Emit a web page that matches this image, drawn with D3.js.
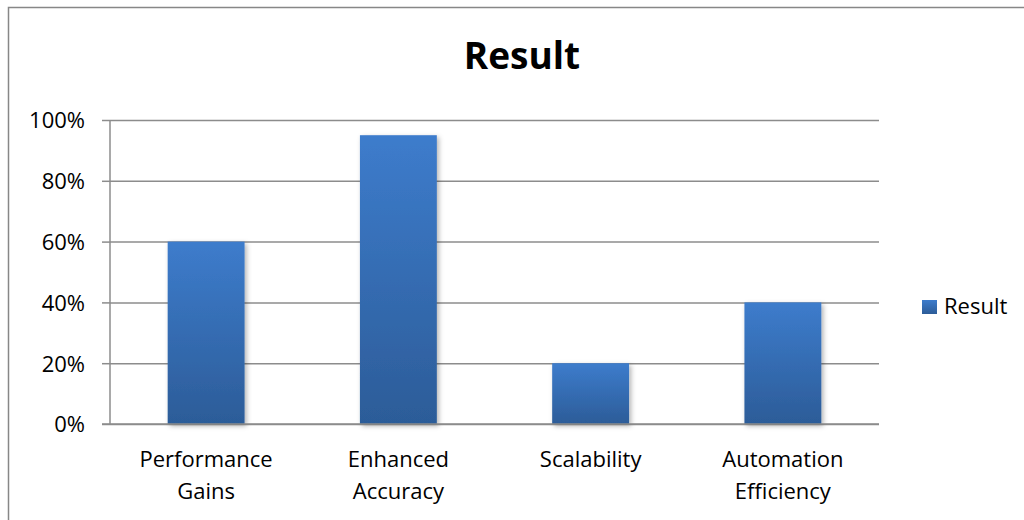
<!DOCTYPE html>
<html>
<head>
<meta charset="utf-8">
<script src="https://cdn.jsdelivr.net/npm/d3@7"></script>
<style>
  html, body { margin: 0; padding: 0; background: #fff; }
  svg { display: block; }
  text { font-family: "Open Sans", Lato, sans-serif; fill: #000; }
</style>
</head>
<body>
<svg id="chart" width="1024" height="520"></svg>
<script>
const categories = [["Performance", "Gains"], ["Enhanced", "Accuracy"], ["Scalability"], ["Automation", "Efficiency"]];
const values = [0.60, 0.95, 0.20, 0.40];
const yTicks = [0, 0.2, 0.4, 0.6, 0.8, 1.0];
const seriesName = "Result";
const title = "Result";

const svg = d3.select("#chart");
const plot = { left: 110, right: 879, top: 120, bottom: 424 };

const defs = svg.append("defs");
const grad = defs.append("linearGradient").attr("id", "barGrad")
  .attr("x1", 0).attr("y1", 0).attr("x2", 0).attr("y2", 1);
grad.append("stop").attr("offset", "0%").attr("stop-color", "#3d7ccc");
grad.append("stop").attr("offset", "100%").attr("stop-color", "#2c5c98");
const f = defs.append("filter").attr("id", "shadow")
  .attr("x", "-20%").attr("y", "-10%").attr("width", "150%").attr("height", "130%");
f.append("feDropShadow").attr("dx", 2).attr("dy", 2).attr("stdDeviation", 2.5)
  .attr("flood-color", "#000").attr("flood-opacity", 0.3);

// outer border
svg.append("rect").attr("x", 8.5).attr("y", 7.5).attr("width", 1030).attr("height", 530)
  .attr("fill", "#fff").attr("stroke", "#878787").attr("stroke-width", 1.5);

const x = d3.scaleBand().domain(d3.range(categories.length))
  .range([plot.left, plot.right]).paddingInner(0.6).paddingOuter(0.3);
const y = d3.scaleLinear().domain([0, 1]).range([plot.bottom, plot.top]);

const yAxis = d3.axisLeft(y).tickValues(yTicks).tickFormat(d3.format(".0%"))
  .tickSize(-(plot.right - plot.left)).tickPadding(25);
const gy = svg.append("g").attr("transform", `translate(${plot.left},0)`).call(yAxis);
gy.select(".domain").remove();
gy.selectAll(".tick line").attr("stroke", "#8c8c8c").attr("stroke-width", 1.5);
gy.selectAll(".tick text").attr("font-size", 22).attr("font-family", "'Open Sans', sans-serif")
  .attr("fill", "#000").attr("dy", "0.36em");
gy.selectAll(".tick").append("line").attr("x1", -8).attr("x2", 0)
  .attr("stroke", "#8c8c8c").attr("stroke-width", 1.5);

svg.append("g").selectAll("rect").data(values).join("rect")
  .attr("x", (d, i) => x(i)).attr("width", x.bandwidth())
  .attr("y", d => y(d)).attr("height", d => y(0) - y(d))
  .attr("fill", "url(#barGrad)").attr("filter", "url(#shadow)");

svg.append("line").attr("x1", plot.left).attr("x2", plot.left)
  .attr("y1", plot.top).attr("y2", plot.bottom)
  .attr("stroke", "#8c8c8c").attr("stroke-width", 1.5);
svg.append("line").attr("x1", plot.left - 8).attr("x2", plot.right)
  .attr("y1", plot.bottom).attr("y2", plot.bottom)
  .attr("stroke", "#8c8c8c").attr("stroke-width", 1.5);

const xl = svg.append("g").selectAll("text").data(categories).join("text")
  .attr("text-anchor", "middle").attr("font-size", 22)
  .attr("x", (d, i) => x(i) + x.bandwidth() / 2).attr("y", 467);
xl.selectAll("tspan").data(d => d).join("tspan")
  .attr("x", function () { return d3.select(this.parentNode).attr("x"); })
  .attr("dy", (d, i) => i === 0 ? 0 : 32).text(d => d);

svg.append("text").attr("x", 522).attr("y", 69).attr("text-anchor", "middle")
  .attr("font-size", 37).attr("font-weight", "bold").text(title);

const lg = svg.append("g");
lg.append("rect").attr("x", 922).attr("y", 300).attr("width", 15).attr("height", 14)
  .attr("fill", "url(#barGrad)");
lg.append("text").attr("x", 944).attr("y", 314).attr("font-size", 22).text(seriesName);
</script>
</body>
</html>
